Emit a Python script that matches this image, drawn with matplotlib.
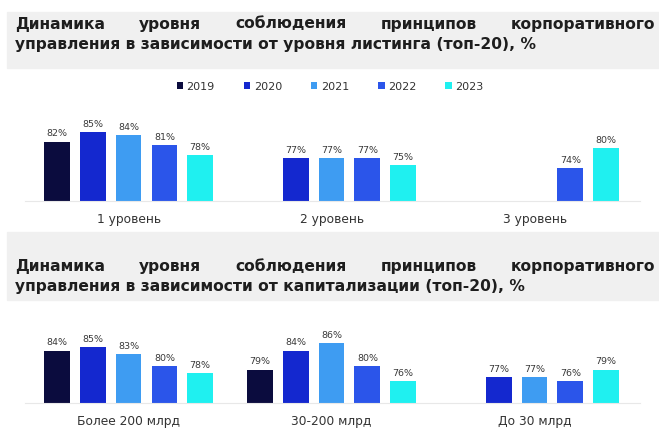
import numpy as np
import matplotlib.pyplot as plt
from matplotlib.patches import Rectangle, Patch

## DATA ##
years = ['2019', '2020', '2021', '2022', '2023']
colors = ['#0b0c3e', '#1428cf', '#3e9cf2', '#2b55ea', '#1ff0f0']

listing_cats = ['1 уровень', '2 уровень', '3 уровень']
listing_2019 = [82, np.nan, np.nan]
listing_2020 = [85, 77, np.nan]
listing_2021 = [84, 77, np.nan]
listing_2022 = [81, 77, 74]
listing_2023 = [78, 75, 80]

cap_cats = ['Более 200 млрд', '30-200 млрд', 'До 30 млрд']
cap_2019 = [84, 79, np.nan]
cap_2020 = [85, 84, 77]
cap_2021 = [83, 86, 77]
cap_2022 = [80, 80, 76]
cap_2023 = [78, 76, 79]

title1 = ['Динамика уровня соблюдения принципов корпоративного',
          'управления в зависимости от уровня листинга (топ-20), %']
title2 = ['Динамика уровня соблюдения принципов корпоративного',
          'управления в зависимости от капитализации (топ-20), %']

W, H = 659, 439
plt.rcParams['font.family'] = ['DejaVu Sans']
fig = plt.figure(figsize=(W / 100, H / 100), dpi=100)


def fx(px):
    return px / W


def fy(py):
    return 1 - py / H


## GREY TITLE BANDS ##
for top, bot in [(13, 69), (233, 301)]:
    fig.patches.append(Rectangle((fx(7), fy(bot)), 1 - fx(7), (bot - top) / H,
                                 transform=fig.transFigure, color='#f0f0f0', zorder=0))

TITLE_FS = 11.2


def justify_title(lines, y1, y2, x0=15, x1=655, fs=TITLE_FS):
    renderer = fig.canvas.get_renderer()
    # first line is justified across the full width
    words = lines[0].split()
    txts = [fig.text(0, fy(y1), w, fontsize=fs, fontweight='bold', color='#1e1e1e',
                     va='center', ha='left') for w in words]
    widths = [t.get_window_extent(renderer).width for t in txts]
    gap = (x1 - x0 - sum(widths)) / (len(words) - 1)
    pos = x0
    for t, w in zip(txts, widths):
        t.set_x(fx(pos))
        pos += w + gap
    fig.text(fx(x0), fy(y2), lines[1], fontsize=fs, fontweight='bold', color='#1e1e1e',
             va='center', ha='left')


justify_title(title1, 24, 44)
justify_title(title2, 267, 287)

## LEGEND ##
handles = [Patch(facecolor=c, edgecolor='none', label=y) for y, c in zip(years, colors)]
fig.legend(handles=handles, loc='center', bbox_to_anchor=(fx(330), fy(87)), ncol=5,
           frameon=False, fontsize=8, handlelength=0.6, handleheight=0.6,
           handletextpad=0.3, columnspacing=2.6, labelcolor='#333333')

## BARS ##
slot = 35.8        # px per slot
group_step = 5.67  # slots between groups
bar_w = 0.72
x_first = 57       # px of first slot centre
ax_left, ax_right = 25, 640


def draw_panel(series, cats, base_px, ymin, px_per_unit):
    ax = fig.add_axes([fx(ax_left), fy(base_px), fx(ax_right - ax_left), 80 / H])
    ax.set_xlim((ax_left - x_first) / slot, (ax_right - x_first) / slot)
    ax.set_ylim(ymin, ymin + 80 / px_per_unit)
    for i, (vals, c) in enumerate(zip(series, colors)):
        for g, v in enumerate(vals):
            if np.isnan(v):
                continue
            x = g * group_step + i
            ax.bar(x, v - ymin, bottom=ymin, width=bar_w, color=c, zorder=2)
            ax.annotate(f'{v:.0f}%', (x, v), xytext=(0, 3), textcoords='offset points',
                        ha='center', va='bottom', fontsize=6.8, color='#3a3a3a')
    ax.set_xticks([g * group_step + 2 for g in range(len(cats))])
    ax.set_xticklabels(cats, fontsize=8.8, color='#333333')
    ax.tick_params(axis='x', length=0, pad=8)
    ax.set_yticks([])
    for s in ['top', 'left', 'right']:
        ax.spines[s].set_visible(False)
    ax.spines['bottom'].set_color('#e8e8e8')
    ax.spines['bottom'].set_linewidth(0.8)
    ax.patch.set_visible(False)
    return ax


draw_panel([listing_2019, listing_2020, listing_2021, listing_2022, listing_2023],
           listing_cats, 202, 64, 3.3)
draw_panel([cap_2019, cap_2020, cap_2021, cap_2022, cap_2023],
           cap_cats, 404, 70.2, 3.8)

fig.savefig('out.png', dpi=100)
